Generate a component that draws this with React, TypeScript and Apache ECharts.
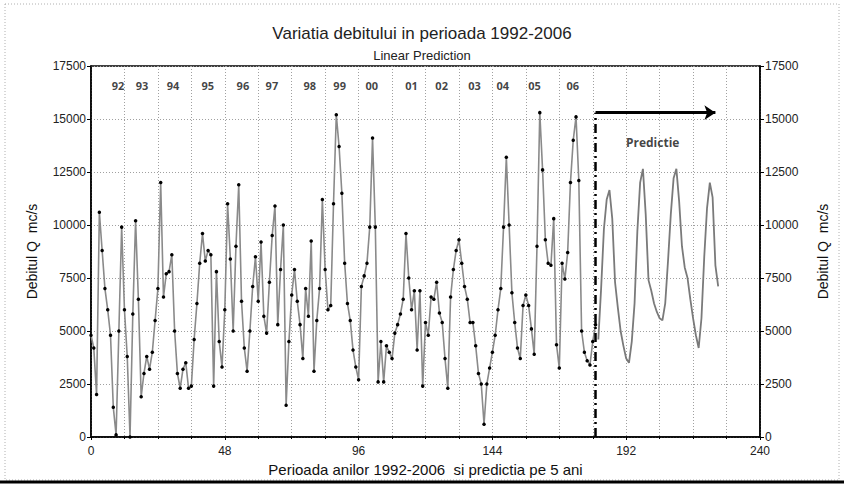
import React, { useEffect, useRef } from "react";
import * as echarts from "echarts";

// Observed monthly discharge, months 0..181 (1992-2006)
const observed = [
  4800, 4200, 2000, 10600, 8800, 7000, 6000, 4800, 1400, 100,
  5000, 9900, 6000, 3800, 0, 5800, 10200, 6500, 1900, 3000,
  3800, 3200, 4000, 5500, 7000, 12000, 6600, 7700, 7800, 8600,
  5000, 3000, 2300, 3200, 3500, 2300, 2400, 4600, 6300, 8200,
  9600, 8300, 8800, 8600, 2400, 7800, 4500, 3300, 6000, 11000,
  8400, 5000, 9000, 11900, 6400, 4200, 3100, 5000, 7100, 8500,
  6400, 9200, 5700, 4900, 7300, 9500, 10900, 5300, 7900, 10000,
  1500, 4500, 6700, 7900, 6400, 5300, 3700, 7000, 5700, 9250,
  3100, 5500, 7000, 11200, 7900, 6000, 6200, 11000, 15200, 13700,
  11500, 8200, 6300, 5500, 4100, 3300, 2700, 7100, 7600, 8200,
  9900, 14100, 9900, 2600, 4500, 2600, 4300, 4000, 3700, 4900,
  5300, 5800, 6500, 9600, 7500, 6000, 6900, 4100, 6900, 2400,
  5400, 4800, 6600, 6500, 7300, 5850, 5400, 3700, 2300, 6600,
  7900, 8800, 9300, 8200, 7100, 6500, 5400, 5400, 4300, 3000,
  2500, 600, 2500, 3250, 4000, 4800, 6000, 7000, 9900, 13200,
  10000, 6800, 5400, 4200, 3700, 6200, 6700, 6200, 5100, 3900,
  9000, 15300, 12600, 9300, 8200, 8100, 10300, 4350, 3250, 8200,
  7450, 8700, 12000, 14000, 15100, 12100, 5000, 4000, 3600, 3400,
  4500, 5300,
];

// Linear prediction, months 182..225
const PRED_START = 182;
const predicted = [
  4600, 7000, 9800, 11200, 11650, 10300, 7300, 6100, 5000, 4300,
  3700, 3500, 4500, 6300, 9700, 12000, 12650, 10500, 7400, 6900,
  6300, 5900, 5600, 5500, 6300, 8300, 10500, 12200, 12650, 11100,
  9000, 8000, 7500, 6500, 5600, 4800, 4200, 5600, 8500, 10800,
  12000, 11300, 8100, 7100,
];

const yearLabels = ["92", "93", "94", "95", "96", "97", "98", "99", "00", "01", "02", "03", "04", "05", "06"];
const yearPositions = [9.7, 18.3, 29.4, 41.9, 54.5, 64.9, 78.5, 89.2, 100.7, 115, 125.8, 137.6, 147.7, 159.1, 172.8];
const YEAR_LABEL_Y = 16600;

const PRED_X = 181;
const ARROW_Y = 15300;
const ARROW_END_X = 224;
const PRED_TEXT = "Predictie";
const PRED_TEXT_POS = [201.5, 13900];

const X_MIN = 0;
const X_MAX = 240;
const X_INTERVAL = 48;
const Y_MIN = 0;
const Y_MAX = 17500;
const Y_INTERVAL = 2500;

const FONT = "'Liberation Sans', Arial, sans-serif";

export default function App() {
  const ref = useRef<HTMLDivElement>(null);

  useEffect(() => {
    const chart = echarts.init(ref.current!, null, { renderer: "svg" });
    const dotted = { color: "#a0a0a0", type: [1, 2], width: 1 };
    const plain = (v: number) => String(v);
    const yAxisBase = {
      type: "value",
      min: Y_MIN,
      max: Y_MAX,
      interval: Y_INTERVAL,
      axisLine: { show: true, lineStyle: { color: "#000", width: 1.5 } },
      axisTick: { show: true, length: 4, lineStyle: { color: "#000" } },
      axisLabel: { fontSize: 12, color: "#222", margin: 5, fontFamily: FONT, formatter: plain },
      name: "Debitul Q  mc/s",
      nameLocation: "middle",
      nameRotate: 90,
      nameTextStyle: { fontSize: 14, color: "#111", fontFamily: FONT },
    };
    chart.setOption({
      animation: false,
      backgroundColor: "#fff",
      title: [
        {
          text: "Variatia debitului in perioada 1992-2006",
          left: "center",
          top: 20,
          textStyle: { fontSize: 17, fontWeight: "normal", color: "#222", fontFamily: FONT },
        },
        {
          text: "Linear Prediction",
          left: "center",
          top: 44,
          textStyle: { fontSize: 13, fontWeight: "normal", color: "#222", fontFamily: FONT },
        },
      ],
      grid: {
        left: 91,
        right: 84,
        top: 66,
        bottom: 54,
        show: true,
        borderColor: "#000",
        borderWidth: 1.5,
      },
      xAxis: {
        type: "value",
        min: X_MIN,
        max: X_MAX,
        interval: X_INTERVAL,
        axisLine: { show: true, lineStyle: { color: "#000", width: 1.5 } },
        axisTick: { show: true, length: 3, lineStyle: { color: "#000" } },
        minorTick: { show: true, splitNumber: 4, length: 2, lineStyle: { color: "#000" } },
        axisLabel: { fontSize: 12, color: "#222", margin: 8, fontFamily: FONT, formatter: plain },
        splitLine: { show: true, lineStyle: dotted },
        minorSplitLine: { show: true, lineStyle: dotted },
        name: "Perioada anilor 1992-2006  si predictia pe 5 ani",
        nameLocation: "middle",
        nameGap: 25,
        nameTextStyle: { fontSize: 15, color: "#111", fontFamily: FONT },
      },
      yAxis: [
        { ...yAxisBase, position: "left", nameGap: 52, splitLine: { show: true, lineStyle: dotted } },
        {
          ...yAxisBase,
          position: "right",
          nameGap: 56,
          splitLine: { show: false },
          axisLabel: { ...yAxisBase.axisLabel, padding: [0, 0, 4, 0] },
        },
      ],
      graphic: [
        {
          type: "rect",
          shape: { x: 5, y: 4, width: 834, height: 476 },
          style: { fill: "none", stroke: "#b0b0b0", lineWidth: 1, lineDash: [1, 2] },
          silent: true,
        },
        {
          type: "line",
          shape: { x1: 0, y1: 482, x2: 844, y2: 482 },
          style: { stroke: "#000", lineWidth: 3 },
          silent: true,
        },
      ],
      series: [
        {
          name: "Observat",
          type: "line",
          data: observed.map((v, i) => [i, v]),
          symbol: "circle",
          symbolSize: 3.5,
          showSymbol: true,
          itemStyle: { color: "#000" },
          lineStyle: { color: "#8a8a8a", width: 1.6 },
          z: 3,
        },
        {
          name: "Predictie",
          type: "line",
          data: predicted.map((v, i) => [PRED_START + i, v]),
          showSymbol: false,
          symbol: "none",
          lineStyle: { color: "#7a7a7a", width: 1.8 },
          z: 3,
          markLine: {
            silent: true,
            symbol: ["none", "none"],
            label: { show: false },
            data: [
              [
                { coord: [PRED_X, Y_MIN], lineStyle: { color: "#000", width: 2.5, type: [9, 4, 2, 4] } },
                { coord: [PRED_X, ARROW_Y] },
              ],
              [
                { coord: [PRED_X, ARROW_Y], symbol: "none", lineStyle: { color: "#000", width: 3, type: "solid" } },
                { coord: [ARROW_END_X, ARROW_Y], symbol: "arrow", symbolSize: 11 },
              ],
            ],
          },
        },
        {
          name: "ani",
          type: "scatter",
          data: yearPositions.map((x, i) => ({ value: [x, YEAR_LABEL_Y], name: yearLabels[i] })),
          symbolSize: 0,
          silent: true,
          label: {
            show: true,
            position: "inside",
            formatter: "{b}",
            fontSize: 11,
            fontWeight: "bold",
            color: "#111",
            fontFamily: "'Open Sans', sans-serif",
          },
        },
        {
          name: "text",
          type: "scatter",
          data: [{ value: PRED_TEXT_POS, name: PRED_TEXT }],
          symbolSize: 0,
          silent: true,
          label: {
            show: true,
            position: "inside",
            formatter: "{b}",
            fontSize: 12,
            fontWeight: "bold",
            color: "#111",
            fontFamily: "'Open Sans', sans-serif",
          },
        },
      ],
    });
    return () => chart.dispose();
  }, []);

  return (
    <div
      ref={ref}
      style={{ position: "absolute", left: 0, top: 0, width: 844, height: 491, background: "#fff" }}
    />
  );
}
